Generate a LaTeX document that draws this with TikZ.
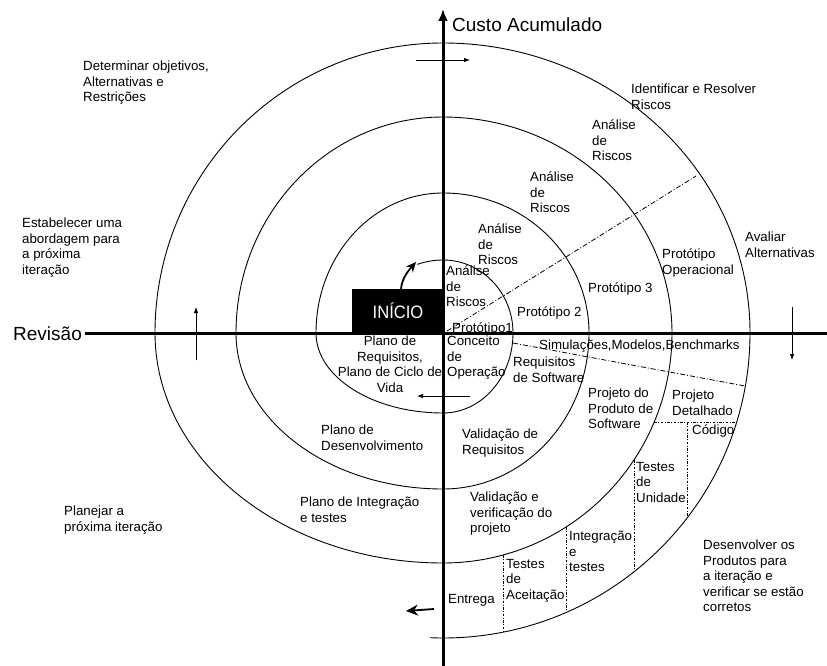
\documentclass[tikz,border=0pt]{standalone}
\usepackage{fontspec}
\setmainfont{Liberation Sans}
\usetikzlibrary{arrows.meta}
\newcommand\bodyf{\fontsize{13.3pt}{15.5pt}\selectfont}
\newcommand\bigf{\fontsize{19pt}{22pt}\selectfont}
\newcommand\inif{\fontsize{18pt}{20pt}\selectfont}
\begin{document}
\begin{tikzpicture}[x=1pt,y=-1pt,
  lbl/.style={anchor=north west, inner sep=0pt, align=left, font=\bodyf, execute at begin node=\strut},
  clbl/.style={lbl, anchor=north, align=center},
  spiral/.style={line width=0.9pt},
  axisline/.style={line width=3pt},
  flow/.style={line width=0.8pt, -{Latex[length=6pt,width=4.5pt]}},
  riskline/.style={line width=0.8pt, dash pattern=on 5pt off 2pt on 1pt off 2pt},
  phaseline/.style={line width=0.7pt, dash pattern=on 2.5pt off 1.5pt on 1pt off 1.5pt}]

\useasboundingbox (0,0) rectangle (827,666);
\fill[white] (0,0) rectangle (827,666);

% spiral (quarter ellipses centred on the axes' crossing)
\begin{scope}[shift={(443,333)}]
\draw[spiral] (250:75 and 73)
  arc[start angle=250,end angle=270,x radius=75,y radius=73]
  arc[start angle=-90,end angle=0,x radius=70,y radius=73]
  arc[start angle=0,end angle=90,x radius=70,y radius=80]
  arc[start angle=90,end angle=180,x radius=127,y radius=80]
  arc[start angle=180,end angle=270,x radius=127,y radius=140]
  arc[start angle=-90,end angle=0,x radius=146,y radius=140]
  arc[start angle=0,end angle=90,x radius=146,y radius=156]
  arc[start angle=90,end angle=180,x radius=207,y radius=156]
  arc[start angle=180,end angle=270,x radius=207,y radius=216]
  arc[start angle=-90,end angle=0,x radius=229,y radius=216]
  arc[start angle=0,end angle=90,x radius=229,y radius=230]
  arc[start angle=90,end angle=180,x radius=288,y radius=230]
  arc[start angle=180,end angle=270,x radius=288,y radius=290]
  arc[start angle=-90,end angle=0,x radius=307,y radius=290]
  arc[start angle=0,end angle=90,x radius=307,y radius=305]
  arc[start angle=90,end angle=92.5,x radius=300,y radius=305];
\end{scope}

% risk and phase dividers
\coordinate (r1) at (447,331);
\coordinate (r2) at (696,176);
\coordinate (s1) at (513,343);
\coordinate (s2) at (745,386);
\draw[riskline] (r1) -- (r2);
\draw[riskline] (s1) -- (s2);
\draw[phaseline] (654,422) -- (737,422);
\draw[phaseline] (687,422) -- (687,518);
\draw[phaseline] (634,460) -- (634,572);
\draw[phaseline] (566,527) -- (566,612);
\draw[phaseline] (503,555) -- (503,632);

% axes
\coordinate (vbot) at (443,666);
\coordinate (vtop) at (443,9);
\coordinate (hleft) at (85,333);
\coordinate (hright) at (827,333);
\draw[axisline, -{Latex[length=12pt,width=10pt]}] (vbot) -- (vtop);
\draw[axisline] (hleft) -- (hright);

% start box and arrow
\node[fill=black, text=white, minimum width=92pt, minimum height=44pt, inner sep=0pt, font=\inif] (inicio) at (398,311) {\scalebox{0.92}[1]{INÍCIO}};
\coordinate (arrtip) at (416,262);
\draw[line width=1.8pt, -{Stealth[length=10pt,width=9pt]}] ([xshift=3pt]inicio.north) .. controls +(1,-11) and +(-7,8) .. (arrtip);

% direction arrows
\coordinate (a1) at (416,60); \coordinate (a2) at (470,60);
\coordinate (b1) at (792,307); \coordinate (b2) at (792,360);
\coordinate (c1) at (196,360); \coordinate (c2) at (196,307);
\coordinate (d1) at (470,396); \coordinate (d2) at (417,396);
\coordinate (e1) at (434,609); \coordinate (e2) at (406,611);
\draw[flow] (a1) -- (a2);
\draw[flow] (b1) -- (b2);
\draw[flow] (c1) -- (c2);
\draw[flow] (d1) -- (d2);
\draw[line width=1.8pt, -{Stealth[length=12pt,width=11pt,inset=4pt]}] (e1) -- (e2);

% axis labels
\node[anchor=base west, inner sep=0pt, font=\bigf] (custo) at (452,32) {Custo Acumulado};
\node[anchor=base west, inner sep=0pt, font=\bigf] (revisao) at (13,340) {Revisão};

% quadrant labels
\node[lbl] (det) at (83,61) {Determinar objetivos,\\Alternativas e\\Restrições};
\node[lbl] (est) at (22,218) {Estabelecer uma\\abordagem para\\a próxima\\iteração};
\node[lbl] (plan) at (64,506) {Planejar a\\próxima iteração};
\node[lbl] (ident) at (631,84) {Identificar e Resolver\\Riscos};
\node[lbl] (aval) at (745,232) {Avaliar\\Alternativas};
\node[lbl] (desenv) at (703,540) {Desenvolver os\\Produtos para\\a iteração e\\verificar se estão\\corretos};

% inner labels
\node[lbl] (an1) at (446,266) {Análise\\de\\Riscos};
\node[lbl] (an2) at (478,224) {Análise\\de\\Riscos};
\node[lbl] (an3) at (530,172) {Análise\\de\\Riscos};
\node[lbl] (an4) at (592,120) {Análise\\de\\Riscos};
\node[lbl] (p1) at (452,321) {Protótipo1};
\node[lbl] (p2) at (517,305) {Protótipo 2};
\node[lbl] (p3) at (588,281) {Protótipo 3};
\node[lbl] (pop) at (662,249) {Protótipo\\Operacional};
\node[lbl] (sim) at (539,338) {Simulações,Modelos,Benchmarks};
\node[lbl] (conc) at (447,336) {Conceito\\de\\Operação};
\node[lbl] (req) at (513,357) {Requisitos\\de Software};
\node[lbl] (pps) at (588,388) {Projeto do\\Produto de\\Software};
\node[lbl] (pd) at (672,390) {Projeto\\Detalhado};
\node[lbl] (cod) at (692,423) {Código};
\node[lbl] (tu) at (636,462) {Testes\\de\\Unidade};
\node[lbl] (it) at (569,531) {Integração\\e\\testes};
\node[lbl] (ta) at (506,559) {Testes\\de\\Aceitação};
\node[lbl] (ent) at (448,592) {Entrega};
\node[lbl] (vvp) at (470,492) {Validação e\\verificação do\\projeto};
\node[lbl] (vr) at (462,429) {Validação de\\Requisitos};
\node[clbl] (prq) at (390,336) {Plano de\\Requisitos,\\Plano de Ciclo de\\Vida};
\node[lbl] (pdes) at (321,425) {Plano de\\Desenvolvimento};
\node[lbl] (pint) at (300,497) {Plano de Integração\\e testes};
\end{tikzpicture}
\end{document}
